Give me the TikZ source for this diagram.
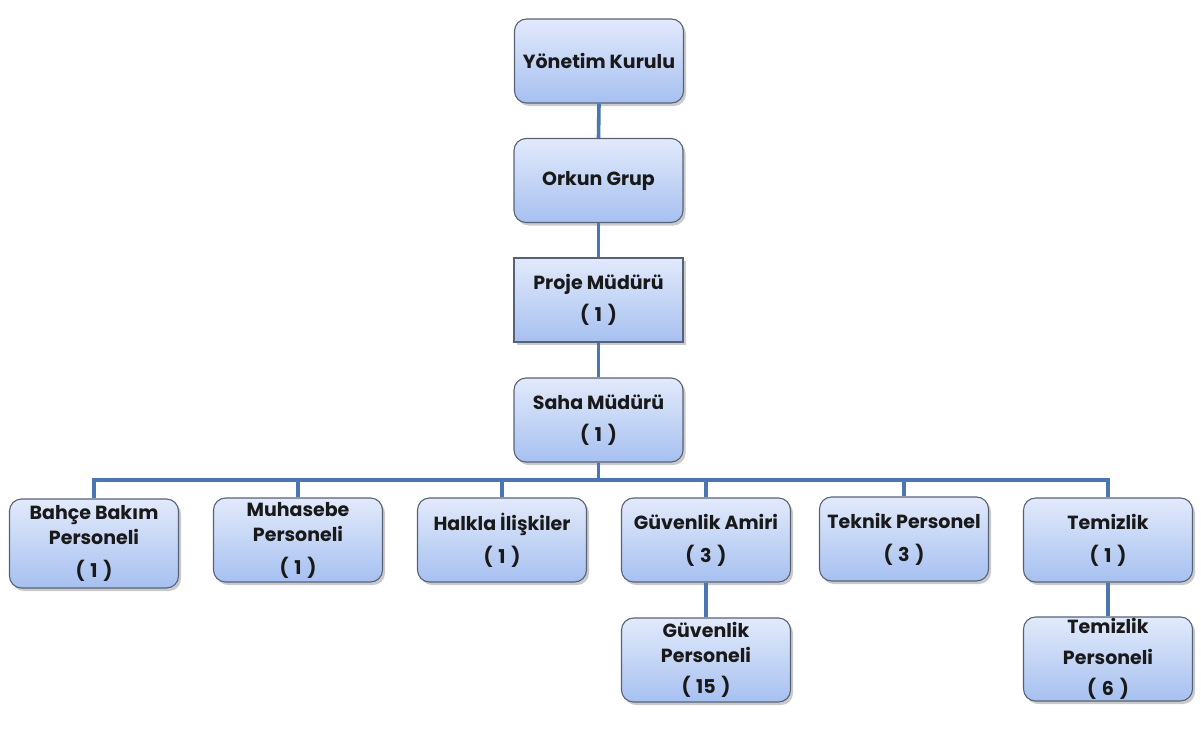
\documentclass[tikz,border=0pt]{standalone}
\usepackage{fontspec}
\setmainfont{Poppins}
\usetikzlibrary{shadows}
\definecolor{lineblue}{RGB}{74,118,178}
\definecolor{boxborder}{RGB}{88,98,118}
\definecolor{filltop}{RGB}{226,234,251}
\definecolor{fillbot}{RGB}{166,192,240}
\newcommand{\cnt}[1]{(\hspace{0.3em}#1\hspace{0.3em})}
\begin{document}
\begin{tikzpicture}[x=1pt,y=-1pt,
  orgbox/.style={draw=boxborder, line width=1.1pt, rounded corners=12pt,
    top color=filltop, bottom color=fillbot,
    minimum width=169pt, minimum height=84pt, inner sep=0pt, align=center,
    font=\bfseries\fontsize{19}{25}\selectfont, text=black!90,
    drop shadow={shadow xshift=2.5pt, shadow yshift=-3pt, opacity=0.35, fill=black!60}},
  sqbox/.style={orgbox, rounded corners=0pt},
  conn/.style={draw=lineblue, line width=3.6pt}]
\useasboundingbox (0,0) rectangle (1201,728);
\node[orgbox] (yk) at (599,61) {Yönetim Kurulu};
\node[orgbox] (og) at (598.5,180.5) {Orkun Grup};
\node[sqbox] (pm) at (598.5,300) {Proje Müdürü\\[7pt]\cnt{1}};
\node[orgbox] (sm) at (598.5,420) {Saha Müdürü\\[7pt]\cnt{1}};
\node[orgbox, minimum height=89pt] (bb) at (94,543.5) {Bahçe Bakım\\Personeli\\[8pt]\cnt{1}};
\node[orgbox] (mu) at (298,540) {Muhasebe\\Personeli\\[8pt]\cnt{1}};
\node[orgbox] (hi) at (502,540) {Halkla İlişkiler\\[8pt]\cnt{1}};
\node[orgbox] (ga) at (706,540) {Güvenlik Amiri\\[8pt]\cnt{3}};
\node[orgbox] (tp) at (904,539) {Teknik Personel\\[8pt]\cnt{3}};
\node[orgbox] (te) at (1108,540) {Temizlik\\[8pt]\cnt{1}};
\node[orgbox] (gp) at (706,660) {Güvenlik\\Personeli\\[6pt]\cnt{15}};
\node[orgbox] (tmp) at (1108,659) {Temizlik\\[6pt]Personeli\\[6pt]\cnt{6}};
\coordinate (bus) at (598.5,480);
\draw[conn] (yk.south) -- (og.north);
\draw[conn] (og.south) -- (pm.north);
\draw[conn] (pm.south) -- (sm.north);
\draw[conn] (sm.south) -- (bus);
\draw[conn] (bb.north) |- (bus) -| (te.north);
\draw[conn] (mu.north) -- (mu.north |- bus);
\draw[conn] (hi.north) -- (hi.north |- bus);
\draw[conn] (ga.north) -- (ga.north |- bus);
\draw[conn] (tp.north) -- (tp.north |- bus);
\draw[conn] (ga.south) -- (gp.north);
\draw[conn] (te.south) -- (tmp.north);
\end{tikzpicture}
\end{document}
